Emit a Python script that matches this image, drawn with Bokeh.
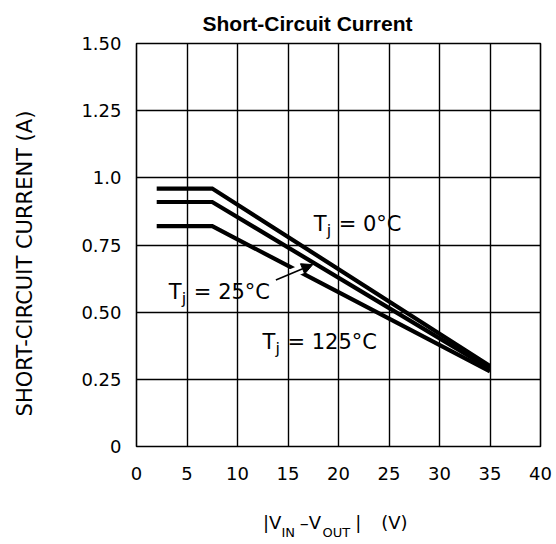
import math
from bokeh.plotting import figure
from bokeh.models import Range1d, FixedTicker, Label, Arrow, NormalHead, LinearAxis
from bokeh.embed import file_html
from bokeh.resources import INLINE

# ---- data ----
x_knee_pts = [2.0, 7.5, 35.0]
current_0C = [0.96, 0.96, 0.30]
current_25C = [0.91, 0.91, 0.29]
current_125C = [0.82, 0.82, 0.28]
x_ticks = [0, 5, 10, 15, 20, 25, 30, 35, 40]
y_ticks = [0, 0.25, 0.5, 0.75, 1.0, 1.25, 1.5]
y_tick_labels = ["0", "0.25", "0.50", "0.75", "1.0", "1.25", "1.50"]

FONT = "DejaVu Sans"
TITLE_FONT = "Liberation Sans"

p = figure(width=556, height=544, output_backend="svg", toolbar_location=None,
           x_range=Range1d(0, 40), y_range=Range1d(0, 1.5),
           min_border_left=136, min_border_right=16, min_border_top=43,
           min_border_bottom=98)
p.background_fill_color = "white"
p.border_fill_color = "white"
p.outline_line_color = "black"
p.outline_line_width = 1.6

p.title.text = "Short-Circuit Current"
p.title.text_font = TITLE_FONT
p.title.text_font_style = "bold"
p.title.text_font_size = "21px"
p.title.text_color = "black"
p.title.align = "left"
p.title.offset = 66
p.title.standoff = 18


def style_axis(ax, size="18px", standoff=15):
    ax.axis_line_color = None
    ax.major_tick_line_color = None
    ax.minor_tick_line_color = None
    ax.major_tick_out = 0
    ax.major_tick_in = 0
    ax.minor_tick_out = 0
    ax.minor_tick_in = 0
    ax.major_label_text_font = FONT
    ax.major_label_text_font_size = size
    ax.major_label_text_color = "black"
    ax.major_label_standoff = standoff


style_axis(p.xaxis[0], "18px", 20)
style_axis(p.yaxis[0], "18px", 15)
p.xaxis.ticker = FixedTicker(ticks=x_ticks)
p.yaxis.ticker = FixedTicker(ticks=y_ticks)
p.yaxis.major_label_overrides = {t: s for t, s in zip(y_ticks, y_tick_labels)}

p.xgrid.ticker = FixedTicker(ticks=x_ticks)
p.ygrid.ticker = FixedTicker(ticks=y_ticks)
for g in (p.xgrid[0], p.ygrid[0]):
    g.grid_line_color = "black"
    g.grid_line_width = 1.4
    g.grid_line_alpha = 1.0

# ---- helpers to turn screen px of the reference into data units ----
def dx(px):
    return (px - 135.6) / 10.11

def dy(py):
    return 1.5 - (py - 42.7) / 268.9

# ---- y axis title (extra axis so it can be centred where the reference has it) ----
ylab_pos = round(dy(263), 3)
yl = LinearAxis(ticker=FixedTicker(ticks=[ylab_pos]),
                major_label_overrides={ylab_pos: "SHORT-CIRCUIT CURRENT (A)"},
                major_label_orientation="vertical")
style_axis(yl, "21px", 41)
p.add_layout(yl, "left")

# ---- x axis title with subscripts (two extra axes: main text and subscripts) ----
main_parts = {round(dx(271.4), 2): "|V", round(dx(309.8), 2): "–V",
              round(dx(357.5), 2): "|", round(dx(393.8), 2): "(V)"}
sub_parts = {round(dx(287.6), 2): "IN", round(dx(335.7), 2): "OUT"}
xl_main = LinearAxis(ticker=FixedTicker(ticks=list(main_parts.keys())),
                     major_label_overrides=main_parts)
style_axis(xl_main, "18px", 29)
p.add_layout(xl_main, "below")
xl_sub = LinearAxis(ticker=FixedTicker(ticks=list(sub_parts.keys())),
                    major_label_overrides=sub_parts)
style_axis(xl_sub, "13px", -11)
p.add_layout(xl_sub, "below")

for ys in (current_0C, current_25C, current_125C):
    p.line(x_knee_pts, ys, line_color="black", line_width=4.2, line_join="miter")

# ---- arrow for the 25 C label (white halo makes the gap in the 125 C curve) ----
ax0, ay0 = 13.8, 0.62
ax1, ay1 = 17.45, 0.677
slope = (ay1 - ay0) / (ax1 - ax0)
p.add_layout(Arrow(end=None, x_start=15.3, y_start=ay0 + slope * (15.3 - ax0),
                   x_end=16.6, y_end=ay0 + slope * (16.6 - ax0),
                   line_color="white", line_width=9))
p.add_layout(Arrow(end=NormalHead(size=11, fill_color="black", line_color="black", line_width=1),
                   x_start=ax0, y_start=ay0, x_end=ax1, y_end=ay1,
                   line_color="black", line_width=1.6))


def tlabel(left_px, base_px, rest):
    x = dx(left_px)
    y = dy(base_px)
    kw = dict(text_font=FONT, text_baseline="alphabetic", text_align="left", text_color="black")
    p.add_layout(Label(x=x, y=y, text="T", text_font_size="21px", **kw))
    p.add_layout(Label(x=x, y=y, x_offset=13, y_offset=-6, text="j", text_font_size="16px", **kw))
    p.add_layout(Label(x=x, y=y, x_offset=25, text=rest, text_font_size="21px", **kw))

tlabel(313, 223.5, "= 0°C")
tlabel(168, 291.5, "= 25°C")
tlabel(261.7, 341.5, "= 125°C")

open("out.html", "w").write(file_html(p, INLINE))
